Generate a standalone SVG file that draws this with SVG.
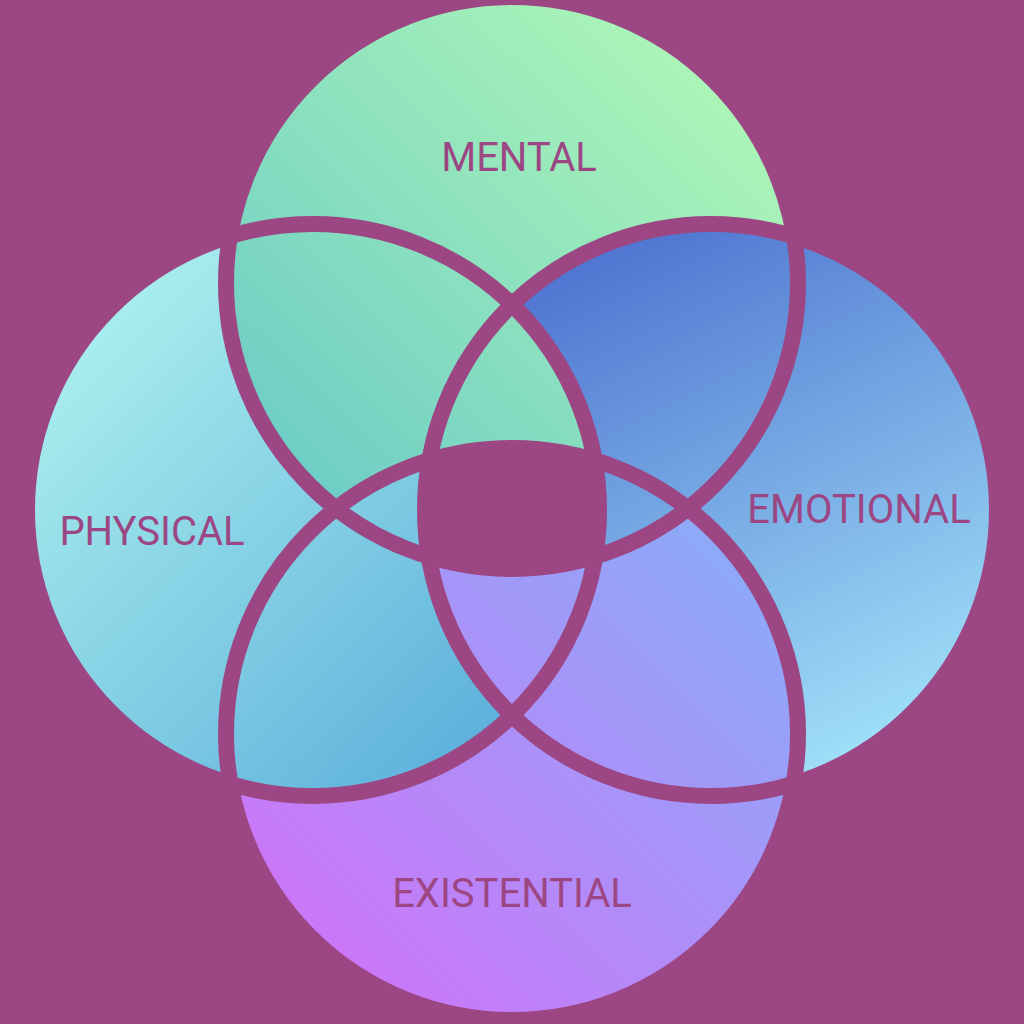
<svg xmlns="http://www.w3.org/2000/svg" width="1024" height="1024" viewBox="0 0 1024 1024">
<style>
.ring{fill:none;stroke:#9C4784;stroke-width:16}
.lbl{font-family:Roboto,"Liberation Sans",sans-serif;font-size:40px;fill:#9C4784;text-anchor:middle}
</style>
<defs>
<linearGradient id="gT" x1="1" y1="0" x2="0" y2="1"><stop offset="0" stop-color="#B8FDB4"/><stop offset="1" stop-color="#62C6C8"/></linearGradient>
<linearGradient id="gL" x1="0" y1="0" x2="1" y2="1"><stop offset="0" stop-color="#B8FAF0"/><stop offset="1" stop-color="#4EA4D8"/></linearGradient>
<linearGradient id="gR" x1="0.25" y1="0" x2="0.75" y2="1"><stop offset="0" stop-color="#4A6ECE"/><stop offset="1" stop-color="#A4E6FA"/></linearGradient>
<linearGradient id="gB" x1="0" y1="1" x2="1" y2="0"><stop offset="0" stop-color="#D86CF8"/><stop offset="1" stop-color="#80B4F8"/></linearGradient>
<clipPath id="cT"><circle cx="512" cy="283" r="286"/></clipPath>
<clipPath id="cL"><circle cx="313" cy="510" r="286"/></clipPath>
<clipPath id="cR"><circle cx="711" cy="510" r="286"/></clipPath>
<clipPath id="cB"><circle cx="512" cy="734" r="286"/></clipPath>
<mask id="mTnoL" maskUnits="userSpaceOnUse" x="0" y="0" width="1024" height="1024">
<circle cx="512" cy="283" r="286" fill="#fff"/>
<circle cx="313" cy="510" r="286" fill="#000"/>
</mask>
</defs>
<rect width="1024" height="1024" fill="#9C4784"/>
<g id="node-emotional-fill"><circle cx="711" cy="510" r="286" fill="url(#gR)"/></g>
<g id="node-existential-fill"><circle cx="512" cy="734" r="286" fill="url(#gB)"/></g>
<g id="node-physical-fill"><circle cx="313" cy="510" r="286" fill="url(#gL)"/></g>
<g id="node-mental-fill"><circle cx="512" cy="283" r="286" fill="url(#gT)"/></g>
<g id="overlaps">
<circle cx="711" cy="510" r="286" fill="url(#gR)" mask="url(#mTnoL)"/>
<g clip-path="url(#cT)"><circle cx="313" cy="510" r="286" fill="url(#gL)" clip-path="url(#cB)"/></g>
<g clip-path="url(#cL)"><circle cx="512" cy="734" r="286" fill="url(#gB)" clip-path="url(#cR)"/></g>
</g>
<g id="rings">
<circle class="ring" cx="512" cy="283" r="286"/>
<circle class="ring" cx="313" cy="510" r="286"/>
<circle class="ring" cx="711" cy="510" r="286"/>
<circle class="ring" cx="512" cy="734" r="286"/>
</g>
<g id="center"><g clip-path="url(#cT)"><g clip-path="url(#cL)"><g clip-path="url(#cR)"><rect x="0" y="0" width="1024" height="1024" fill="#9C4784" clip-path="url(#cB)"/></g></g></g></g>
<g id="node-mental"><text class="lbl" x="519" y="171">MENTAL</text></g>
<g id="node-physical"><text class="lbl" x="152" y="545">PHYSICAL</text></g>
<g id="node-emotional"><text class="lbl" x="859" y="523">EMOTIONAL</text></g>
<g id="node-existential"><text class="lbl" x="512" y="907">EXISTENTIAL</text></g>
</svg>
